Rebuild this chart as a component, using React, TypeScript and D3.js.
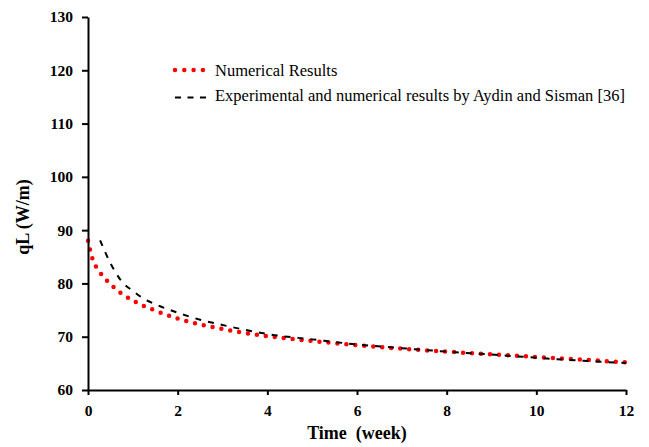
import * as d3 from 'd3';
import { useEffect, useRef } from 'react';

// Numerical results (red dots)
const weeksNum = [0, 0.1, 0.25, 0.5, 0.75, 1, 1.5, 2, 2.5, 3, 3.5, 4, 5, 6, 7, 8, 9, 10, 11, 12];
const qlNum = [88.0, 84.6, 82.3, 79.9, 78.1, 76.8, 74.9, 73.4, 72.3, 71.45, 70.7, 70.1, 69.2, 68.4, 67.75, 67.2, 66.7, 66.2, 65.7, 65.2];

// Aydin and Sisman [36] (black dashes)
const weeksRef = [0.27, 0.5, 0.75, 1, 1.25, 1.5, 2, 2.5, 3, 3.5, 4, 5, 6, 7, 8, 9, 10, 11, 12];
const qlRef = [88.1, 83.8, 80.4, 78.6, 77.1, 76.1, 74.5, 73.2, 72.2, 71.3, 70.5, 69.5, 68.55, 67.85, 67.2, 66.65, 66.05, 65.5, 65.05];

const xTicks = [0, 2, 4, 6, 8, 10, 12];
const yTicks = [60, 70, 80, 90, 100, 110, 120, 130];
const legendLabels = ['Numerical Results', 'Experimental and numerical results by Aydin and Sisman [36]'];

const FONT = 'Liberation Serif, serif';

const App = () => {
    const ref = useRef<any>();
    const dimensions: any = {
        width: 649,
        height: 447,
        left: 88,
        right: 626,
        top: 17,
        bottom: 390
    };

    useEffect(() => {
        document.body.style.margin = '0';
        const svg = d3.select(ref.current);
        svg.selectAll('*').remove();
        svg.attr('width', dimensions.width)
            .attr('height', dimensions.height)
            .attr('font-family', FONT)
            .style('display', 'block');

        const x = d3.scaleLinear().domain([0, 12]).range([dimensions.left, dimensions.right]);
        const y = d3.scaleLinear().domain([60, 130]).range([dimensions.bottom, dimensions.top]);

        const line = d3.line<any>()
            .x((d: any) => x(d[0]))
            .y((d: any) => y(d[1]))
            .curve(d3.curveMonotoneX);

        // red dotted series
        svg.append('path')
            .attr('d', line(d3.zip(weeksNum, qlNum)))
            .attr('fill', 'none')
            .attr('stroke', '#ff0000')
            .attr('stroke-width', 4.5)
            .attr('stroke-linecap', 'round')
            .attr('stroke-dasharray', '0 9');

        // black dashed series
        svg.append('path')
            .attr('d', line(d3.zip(weeksRef, qlRef)))
            .attr('fill', 'none')
            .attr('stroke', '#000')
            .attr('stroke-width', 2)
            .attr('stroke-dasharray', '6 7');

        // axes
        const xAxis = svg.append('g')
            .attr('transform', `translate(0, ${dimensions.bottom})`)
            .call(d3.axisBottom(x).tickValues(xTicks).tickSize(5).tickSizeOuter(0).tickPadding(10));
        const yAxis = svg.append('g')
            .attr('transform', `translate(${dimensions.left}, 0)`)
            .call(d3.axisLeft(y).tickValues(yTicks).tickSize(6).tickSizeOuter(0).tickPadding(9));

        [xAxis, yAxis].forEach((g: any) => {
            g.attr('font-family', null).attr('font-size', null);
            g.select('.domain').attr('stroke', '#000').attr('stroke-width', 2);
            g.selectAll('.tick line').attr('stroke', '#000').attr('stroke-width', 2);
            g.selectAll('.tick text')
                .attr('fill', '#000')
                .attr('font-family', FONT)
                .attr('font-weight', 'bold')
                .attr('font-size', 15.5);
        });

        // axis titles
        svg.append('text')
            .attr('x', (dimensions.left + dimensions.right) / 2)
            .attr('y', 439)
            .attr('text-anchor', 'middle')
            .attr('font-weight', 'bold')
            .attr('font-size', 18)
            .style('white-space', 'pre')
            .text('Time  (week)');

        svg.append('text')
            .attr('transform', 'translate(29, 217) rotate(-90)')
            .attr('text-anchor', 'middle')
            .attr('font-weight', 'bold')
            .attr('font-size', 18)
            .text('qL (W/m)');

        // legend
        const legend = svg.append('g');
        legend.append('line')
            .attr('x1', 175).attr('x2', 203).attr('y1', 70).attr('y2', 70)
            .attr('stroke', '#ff0000')
            .attr('stroke-width', 4.5)
            .attr('stroke-linecap', 'round')
            .attr('stroke-dasharray', '0 9.3');
        legend.append('line')
            .attr('x1', 175).attr('x2', 206).attr('y1', 97.5).attr('y2', 97.5)
            .attr('stroke', '#000')
            .attr('stroke-width', 2)
            .attr('stroke-dasharray', '6 6.5');
        legend.selectAll('.leg-text').data(legendLabels).join('text')
            .attr('class', 'leg-text')
            .attr('x', 215)
            .attr('y', (d: any, i: number) => 76 + i * 25)
            .attr('font-size', 16.5)
            .text((d: any) => d);
    }, []);

    return (
        <>
            <svg ref={ref}></svg>
        </>
    );
};

export default App;
